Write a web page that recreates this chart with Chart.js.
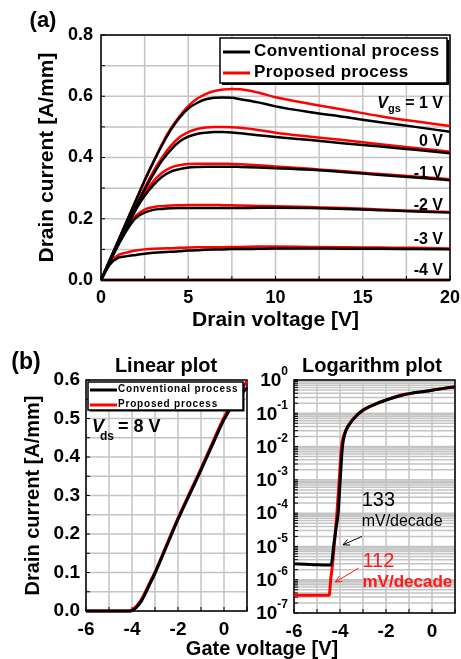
<!DOCTYPE html>
<html>
<head>
<meta charset="utf-8">
<script src="https://cdn.jsdelivr.net/npm/chart.js@4.4.1/dist/chart.umd.min.js"></script>
<style>
  body { margin: 0; background: #fff; }
  canvas { position: absolute; }
</style>
</head>
<body>
<canvas id="chartA" width="461" height="340" style="left:0;top:0"></canvas>
<canvas id="chartB" width="461" height="319" style="left:0;top:340px"></canvas>
<canvas id="chartC" width="211" height="319" style="left:250px;top:340px"></canvas>
<script>
const FONT = '"Liberation Sans", Arial, sans-serif';
const NARROW = '"Liberation Sans Narrow", "Liberation Sans", Arial, sans-serif';
const GRID = '#c4c4c4';
const BLACK = '#000000';
const RED = '#ff0000';

const legendNames = ['Conventional process', 'Proposed process'];

// ---- (a) output curves, Id vs Vds ----
const vds = [0, 0.5, 1, 1.5, 2, 2.5, 3, 3.5, 4, 4.5, 5, 5.5, 6, 6.5, 7, 7.5, 8, 9, 10, 12, 14, 16, 18, 20];
const convVgs1  = [0, 0.065, 0.13, 0.195, 0.26, 0.325, 0.385, 0.44, 0.49, 0.53, 0.56, 0.578, 0.59, 0.595, 0.596, 0.595, 0.59, 0.58, 0.567, 0.548, 0.532, 0.515, 0.5, 0.484];
const convVgs0  = [0, 0.06, 0.12, 0.18, 0.24, 0.295, 0.345, 0.39, 0.425, 0.452, 0.468, 0.477, 0.481, 0.483, 0.483, 0.482, 0.479, 0.473, 0.467, 0.457, 0.446, 0.436, 0.425, 0.414];
const convVgsM1 = [0, 0.06, 0.12, 0.175, 0.23, 0.275, 0.31, 0.337, 0.354, 0.362, 0.367, 0.369, 0.37, 0.37, 0.37, 0.37, 0.369, 0.367, 0.365, 0.36, 0.352, 0.343, 0.335, 0.326];
const convVgsM2 = [0, 0.06, 0.115, 0.165, 0.203, 0.22, 0.229, 0.232, 0.234, 0.235, 0.235, 0.235, 0.235, 0.235, 0.235, 0.235, 0.235, 0.236, 0.236, 0.235, 0.232, 0.228, 0.224, 0.22];
const convVgsM3 = [0, 0.05, 0.073, 0.078, 0.082, 0.086, 0.089, 0.091, 0.092, 0.094, 0.096, 0.097, 0.099, 0.1, 0.1, 0.101, 0.101, 0.102, 0.103, 0.103, 0.102, 0.102, 0.101, 0.1];
const convVgsM4 = [0, 0, 0, 0, 0, 0, 0, 0, 0, 0, 0, 0, 0, 0, 0, 0, 0, 0, 0, 0, 0, 0, 0, 0];
const propVgs1  = [0, 0.065, 0.13, 0.195, 0.26, 0.325, 0.385, 0.445, 0.495, 0.535, 0.568, 0.592, 0.607, 0.617, 0.622, 0.624, 0.623, 0.612, 0.597, 0.575, 0.555, 0.535, 0.518, 0.503];
const propVgs0  = [0, 0.06, 0.12, 0.18, 0.24, 0.3, 0.355, 0.4, 0.438, 0.466, 0.483, 0.493, 0.498, 0.5, 0.5, 0.499, 0.497, 0.49, 0.481, 0.468, 0.456, 0.443, 0.431, 0.419];
const propVgsM1 = [0, 0.06, 0.12, 0.178, 0.235, 0.283, 0.322, 0.35, 0.367, 0.375, 0.379, 0.38, 0.38, 0.38, 0.38, 0.379, 0.378, 0.375, 0.371, 0.363, 0.355, 0.346, 0.338, 0.329];
const propVgsM2 = [0, 0.06, 0.118, 0.17, 0.21, 0.23, 0.238, 0.241, 0.243, 0.244, 0.245, 0.245, 0.245, 0.245, 0.244, 0.244, 0.243, 0.242, 0.241, 0.238, 0.235, 0.23, 0.226, 0.222];
const propVgsM3 = [0, 0.055, 0.082, 0.09, 0.096, 0.1, 0.102, 0.103, 0.104, 0.105, 0.106, 0.107, 0.107, 0.107, 0.107, 0.108, 0.108, 0.109, 0.109, 0.108, 0.107, 0.106, 0.105, 0.103];
const propVgsM4 = [0, 0, 0, 0, 0, 0, 0, 0, 0, 0, 0, 0, 0, 0, 0, 0, 0, 0, 0, 0, 0, 0, 0, 0];
const vgsNames  = ['1 V', '0 V', '-1 V', '-2 V', '-3 V', '-4 V'];
const vgsLabelY = [0.575, 0.452, 0.348, 0.244, 0.132, 0.030];
const vgsLabelX = 19.6;

// ---- (b) transfer curves, linear ----
const vgsLinConv = [-6, -5, -4.1, -4.0, -3.8, -3.6, -3.4, -3.2, -3.0, -2.5, -2.0, -1.5, -1.0, -0.5, 0, 0.5, 1.0];
const idLinConv  = [0, 0, 0, 0.001, 0.01, 0.025, 0.048, 0.073, 0.098, 0.168, 0.238, 0.302, 0.366, 0.432, 0.497, 0.546, 0.58];
const vgsLinProp = [-6, -5, -4.15, -4.0, -3.8, -3.6, -3.4, -3.2, -3.0, -2.5, -2.0, -1.5, -1.0, -0.5, 0, 0.5, 1.0];
const idLinProp  = [0, 0, 0, 0.003, 0.013, 0.029, 0.052, 0.077, 0.101, 0.171, 0.241, 0.306, 0.37, 0.437, 0.503, 0.553, 0.597];

// ---- (b) transfer curves, log ----
const vgsLogConv = [-6, -5.5, -5, -4.5, -4.39, -4.34, -4.28, -4.17, -4.08, -3.99, -3.9, -3.8, -3.6, -3.4, -3.0, -2.5, -2.0, -1.5, -1.0, -0.5, 0, 0.5, 1];
const idLogConv  = [3.0e-6, 2.9e-6, 2.8e-6, 2.75e-6, 2.75e-6, 4e-6, 1e-5, 3.5e-5, 1e-4, 1e-3, 9e-3, 2.3e-2, 4.5e-2, 7e-2, 0.125, 0.185, 0.25, 0.32, 0.39, 0.44, 0.49, 0.56, 0.62];
const vgsLogProp = [-6, -5, -4.47, -4.4, -4.35, -4.25, -4.13, -4.03, -3.94, -3.76, -3.4, -2.96, -2.37, -1.79, -1.35, -1.0, -0.5, 0, 0.5, 1];
const idLogProp  = [3.4e-7, 3.4e-7, 3.4e-7, 1.1e-6, 2e-6, 1.07e-5, 1.07e-4, 1.1e-3, 9e-3, 2.9e-2, 7e-2, 0.126, 0.2, 0.28, 0.355, 0.39, 0.44, 0.49, 0.56, 0.63];
const logExps = [0, -1, -2, -3, -4, -5, -6, -7];

// grid line positions
const gridXA = [0, 2.5, 5, 7.5, 10, 12.5, 15, 17.5, 20];
const gridYA = [0, 0.1, 0.2, 0.3, 0.4, 0.5, 0.6, 0.7, 0.8];
const gridXB = [-6, -5, -4, -3, -2, -1, 0, 1];
const gridYB = [0, 0.05, 0.1, 0.15, 0.2, 0.25, 0.3, 0.35, 0.4, 0.45, 0.5, 0.55, 0.6];
const gridYC = [];
logExps.slice(1).forEach(e => { for (let m = 1; m <= 9; m++) gridYC.push(m * Math.pow(10, e)); });
gridYC.push(1);

// subthreshold swing notes (data units)
const ssConv = { text: '133', unit: 'mV/decade', x: -2.33, y: 2.45e-4, ux: -1.3, uy: 5.4e-5, from: [-3.04, 2e-5], to: [-3.87, 1.12e-5] };
const ssProp = { text: '112', unit: 'mV/decade', x: -2.33, y: 3.45e-6, ux: -1.07, uy: 8.2e-7, from: [-3.19, 2.24e-6], to: [-4.2, 8.5e-7] };

function bold(size) { return { family: FONT, size: size, weight: 'bold' }; }
function xy(xs, ys) { return xs.map((x, i) => ({ x: x, y: ys[i] })); }
function curve(label, xs, ys, color, width) {
  return { label, data: xy(xs, ys), borderColor: color, borderWidth: width,
    pointRadius: 0, cubicInterpolationMode: 'monotone', clip: 4 };
}
function hiddenTicks() { return { display: false, drawTicks: true, tickLength: 7, tickColor: 'rgba(0,0,0,0)' }; }

function text(ctx, str, x, y, font, color, align) {
  ctx.font = font;
  ctx.fillStyle = color || '#000';
  ctx.textAlign = align || 'center';
  ctx.textBaseline = 'middle';
  ctx.fillText(str, x, y);
}

// grid, inward ticks and frame under the curves
function framePlugin(gx, gy) {
  return {
    id: 'frame',
    beforeDatasetsDraw(chart) {
      const { ctx, chartArea: a } = chart;
      const xs = chart.scales.x, ys = chart.scales.y;
      const px = gx.map(v => xs.getPixelForValue(v));
      const py = gy.map(v => ys.getPixelForValue(v));
      ctx.save();
      ctx.strokeStyle = GRID;
      ctx.lineWidth = 1.5;
      ctx.beginPath();
      px.forEach(p => { ctx.moveTo(p, a.top); ctx.lineTo(p, a.bottom); });
      py.forEach(p => { ctx.moveTo(a.left, p); ctx.lineTo(a.right, p); });
      ctx.stroke();
      ctx.strokeStyle = '#000';
      ctx.lineWidth = 1;
      ctx.beginPath();
      px.forEach(p => { ctx.moveTo(p, a.bottom); ctx.lineTo(p, a.bottom - 4); });
      py.forEach(p => { ctx.moveTo(a.left, p); ctx.lineTo(a.left + 4, p); });
      ctx.stroke();
      ctx.lineWidth = 1.5;
      ctx.strokeRect(a.left, a.top, a.right - a.left, a.bottom - a.top);
      ctx.restore();
    }
  };
}

function drawLegendBox(chart, o) {
  const { ctx, chartArea: a } = chart;
  const x = a.left + o.leftGap, y = a.top + o.topGap;
  ctx.save();
  ctx.fillStyle = '#000';
  ctx.fillRect(x + o.shadow, y + o.shadow, o.w, o.h);
  ctx.fillStyle = '#fff';
  ctx.fillRect(x, y, o.w, o.h);
  ctx.strokeStyle = '#000';
  ctx.lineWidth = 1.5;
  ctx.strokeRect(x, y, o.w, o.h);
  legendNames.forEach((name, i) => {
    const ly = y + o.firstY + i * o.rowH;
    ctx.strokeStyle = chart.data.datasets[o.dsIndex[i]].borderColor;
    ctx.lineWidth = o.lw;
    ctx.beginPath();
    ctx.moveTo(x + o.lineX0, ly);
    ctx.lineTo(x + o.lineX1, ly);
    ctx.stroke();
    // spaced-out lettering, one glyph at a time
    ctx.font = 'bold ' + o.size + 'px ' + FONT;
    ctx.fillStyle = '#000';
    ctx.textAlign = 'left';
    ctx.textBaseline = 'middle';
    let cx = x + o.textX;
    for (const ch of name) {
      ctx.fillText(ch, cx, ly - 1);
      cx += ctx.measureText(ch).width + o.spacing;
    }
  });
  ctx.restore();
}

// ================= (a) =================
const dsA = [convVgs1, convVgs0, convVgsM1, convVgsM2, convVgsM3, convVgsM4].map(d => curve(legendNames[0], vds, d, BLACK, 2.5))
  .concat([propVgs1, propVgs0, propVgsM1, propVgsM2, propVgsM3, propVgsM4].map(d => curve(legendNames[1], vds, d, RED, 2.5)));

new Chart(document.getElementById('chartA'), {
  type: 'line',
  data: { datasets: dsA },
  options: {
    responsive: false, animation: false, events: [],
    layout: { padding: { left: 0, right: 11, top: 35, bottom: 0 }, autoPadding: false },
    plugins: { legend: { display: false }, tooltip: { enabled: false } },
    scales: {
      x: {
        type: 'linear', min: 0, max: 20,
        ticks: { stepSize: 2.5, maxTicksLimit: 100, autoSkip: false, maxRotation: 0, padding: 0,
          font: bold(18), color: '#000',
          callback: v => (v % 5 === 0 ? String(v) : '') },
        grid: hiddenTicks(),
        border: { display: false },
        title: { display: true, text: 'Drain voltage [V]', font: bold(21), color: '#000', padding: { top: 0, bottom: 7 } },
        afterFit: s => { s.height = 60; }
      },
      y: {
        type: 'linear', min: 0, max: 0.8,
        ticks: { stepSize: 0.1, maxTicksLimit: 100, autoSkip: false, padding: 8,
          font: bold(18), color: '#000',
          callback: v => (Math.round(v * 10) % 2 === 0 ? v.toFixed(1) : '') },
        grid: { display: false, drawTicks: false },
        border: { display: false },
        title: { display: true, text: 'Drain current [A/mm]', font: bold(21), color: '#000', padding: { top: 35, bottom: 0 } },
        afterFit: s => { s.width = 101; }
      }
    }
  },
  plugins: [framePlugin(gridXA, gridYA), {
    id: 'annotA',
    afterDraw(chart) {
      const { ctx } = chart;
      const xs = chart.scales.x, ys = chart.scales.y;
      ctx.save();
      text(ctx, '(a)', 43, 21, 'bold 22px ' + FONT);
      const px = xs.getPixelForValue(vgsLabelX);
      vgsNames.forEach((name, i) => {
        const py = ys.getPixelForValue(vgsLabelY[i]);
        const main = i === 0 ? ' = ' + name : name;
        text(ctx, main, px, py, 'bold 16px ' + NARROW, '#000', 'right');
        if (i === 0) {
          let x = px - ctx.measureText(main).width;
          text(ctx, 'gs', x, py + 5, 'bold 11px ' + NARROW, '#000', 'right');
          x -= ctx.measureText('gs').width;
          text(ctx, 'V', x, py, 'italic bold 16px ' + NARROW, '#000', 'right');
        }
      });
      ctx.restore();
      drawLegendBox(chart, { leftGap: 119, topGap: 3, w: 227, h: 45, shadow: 2, size: 17, spacing: 0.4,
        firstY: 14, rowH: 21, lineX0: 3, lineX1: 30, textX: 34, lw: 3, dsIndex: [0, 6] });
    }
  }]
});

// ================= (b) linear =================
new Chart(document.getElementById('chartB'), {
  type: 'line',
  data: { datasets: [
    curve(legendNames[0], vgsLinConv, idLinConv, BLACK, 3),
    curve(legendNames[1], vgsLinProp, idLinProp, RED, 3)
  ] },
  options: {
    responsive: false, animation: false, events: [],
    layout: { padding: { left: 0, right: 214, top: 40, bottom: 0 }, autoPadding: false },
    plugins: { legend: { display: false }, tooltip: { enabled: false } },
    scales: {
      x: {
        type: 'linear', min: -6, max: 1,
        ticks: { stepSize: 1, maxTicksLimit: 100, autoSkip: false, maxRotation: 0, padding: 0,
          font: bold(19), color: '#000',
          callback: v => (v % 2 === 0 ? String(v) : '') },
        grid: hiddenTicks(),
        border: { display: false },
        afterFit: s => { s.height = 48; }
      },
      y: {
        type: 'linear', min: 0, max: 0.6,
        ticks: { stepSize: 0.05, maxTicksLimit: 100, autoSkip: false, padding: 6,
          font: bold(19), color: '#000',
          callback: v => (Math.round(v * 100) % 10 === 0 ? v.toFixed(1) : '') },
        grid: { display: false, drawTicks: false },
        border: { display: false },
        title: { display: true, text: 'Drain current [A/mm]', font: bold(20), color: '#000', padding: { top: 21, bottom: 0 } },
        afterFit: s => { s.width = 86; }
      }
    }
  },
  plugins: [framePlugin(gridXB, gridYB), {
    id: 'annotB',
    afterDraw(chart) {
      drawLegendBox(chart, { leftGap: 2, topGap: 2, w: 155, h: 28, shadow: 1.5, size: 10, spacing: 0.8,
        firstY: 8, rowH: 15, lineX0: 2, lineX1: 29, textX: 30, lw: 3, dsIndex: [0, 1] });
      const { ctx } = chart;
      const px = chart.scales.x.getPixelForValue(-5.74);
      const py = chart.scales.y.getPixelForValue(0.479);
      ctx.save();
      text(ctx, 'V', px, py, 'italic bold 18px ' + FONT, '#000', 'left');
      text(ctx, 'ds', px + 8, py + 10, 'bold 12px ' + FONT, '#000', 'left');
      text(ctx, '= 8 V', px + 26, py, 'bold 18px ' + FONT, '#000', 'left');
      text(ctx, '(b)', 26, 23, 'bold 23px ' + FONT);
      text(ctx, 'Linear plot', 166, 26, 'bold 20px ' + FONT);
      text(ctx, 'Gate voltage [V]', 262, 309, 'bold 20px ' + FONT);
      ctx.restore();
    }
  }]
});

// ================= (b) log =================
function arrow(ctx, x0, y0, x1, y1, color) {
  const ang = Math.atan2(y1 - y0, x1 - x0);
  ctx.strokeStyle = color;
  ctx.lineWidth = 1;
  ctx.beginPath();
  ctx.moveTo(x0, y0);
  ctx.lineTo(x1, y1);
  ctx.moveTo(x1 - 7 * Math.cos(ang - 0.45), y1 - 7 * Math.sin(ang - 0.45));
  ctx.lineTo(x1, y1);
  ctx.lineTo(x1 - 7 * Math.cos(ang + 0.45), y1 - 7 * Math.sin(ang + 0.45));
  ctx.stroke();
}

new Chart(document.getElementById('chartC'), {
  type: 'line',
  data: { datasets: [
    curve(legendNames[0], vgsLogConv, idLogConv, BLACK, 3),
    curve(legendNames[1], vgsLogProp, idLogProp, RED, 3)
  ] },
  options: {
    responsive: false, animation: false, events: [],
    layout: { padding: { left: 0, right: 6, top: 40, bottom: 0 }, autoPadding: false },
    plugins: { legend: { display: false }, tooltip: { enabled: false } },
    scales: {
      x: {
        type: 'linear', min: -6, max: 1,
        ticks: { stepSize: 1, maxTicksLimit: 100, autoSkip: false, maxRotation: 0, padding: 0,
          font: bold(19), color: '#000',
          callback: v => (v % 2 === 0 ? String(v) : '') },
        grid: hiddenTicks(),
        border: { display: false },
        afterFit: s => { s.height = 46; }
      },
      y: {
        type: 'logarithmic', min: 1e-7, max: 1,
        ticks: { display: false, autoSkip: false },
        grid: { display: false, drawTicks: false },
        border: { display: false },
        afterBuildTicks: s => { s.ticks = gridYC.map(v => ({ value: v })); },
        afterFit: s => { s.width = 44; }
      }
    }
  },
  plugins: [framePlugin(gridXB, gridYC), {
    id: 'annotC',
    afterDraw(chart) {
      const { ctx, chartArea: a } = chart;
      const xs = chart.scales.x, ys = chart.scales.y;
      ctx.save();
      logExps.forEach(e => {
        const py = ys.getPixelForValue(Math.pow(10, e));
        const sup = e === 0 ? '0' : '-' + (-e);
        text(ctx, sup, a.left - 6, py - 8, 'bold 12px ' + FONT, '#000', 'right');
        const w = ctx.measureText(sup).width;
        text(ctx, '10', a.left - 6 - w, py + 1, 'bold 19px ' + FONT, '#000', 'right');
      });
      [[ssConv, '#000', 'normal 16px '], [ssProp, '#ff1a1a', 'bold 17px ']].forEach(([s, col, uf]) => {
        text(ctx, s.text, xs.getPixelForValue(s.x), ys.getPixelForValue(s.y), '20px ' + FONT, col);
        text(ctx, s.unit, xs.getPixelForValue(s.ux), ys.getPixelForValue(s.uy), uf + FONT, col);
        arrow(ctx, xs.getPixelForValue(s.from[0]), ys.getPixelForValue(s.from[1]),
          xs.getPixelForValue(s.to[0]), ys.getPixelForValue(s.to[1]), col);
      });
      text(ctx, 'Logarithm plot', 122, 26, 'bold 20px ' + FONT);
      ctx.restore();
    }
  }]
});
</script>
</body>
</html>
